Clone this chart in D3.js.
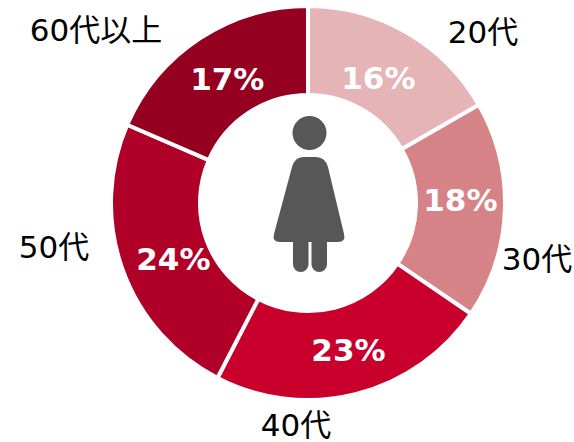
<!DOCTYPE html>
<html>
<head>
<meta charset="utf-8">
<script src="https://cdn.jsdelivr.net/npm/d3@7"></script>
<style>
  html, body { margin: 0; padding: 0; background: #fff; }
  text { font-family: "DejaVu Sans", "Noto Sans CJK JP", sans-serif; }
</style>
</head>
<body>
<svg id="chart"></svg>
<script>
// age groups, clockwise from 12 o'clock
const ages = ["20代", "30代", "40代", "50代", "60代以上"];
// printed labels
const percents = ["16%", "18%", "23%", "24%", "17%"];
// slice sizes (they differ a bit from the printed numbers)
const shares = [16.7, 17.8, 23.1, 23.9, 18.5];
const colors = ["#e4b4b6", "#d58387", "#c8002b", "#b00028", "#960020"];

const width = 574, height = 442;
const cx = 308, cy = 203;
const outer = 197, inner = 108;

const svg = d3.select("#chart").attr("width", width).attr("height", height);
svg.style("display", "block");

const g = svg.append("g").attr("transform", "translate(" + cx + "," + cy + ")");

const pie = d3.pie().sort(null)(shares);
const arc = d3.arc().innerRadius(inner).outerRadius(outer);

g.selectAll("path.slice")
  .data(pie)
  .enter()
  .append("path")
  .attr("class", "slice")
  .attr("d", arc)
  .attr("fill", (d, i) => colors[i])
  .attr("stroke", "#fff")
  .attr("stroke-width", 4);

// percent labels sit a little off the ring's centre line, same as the original
const pctOffset = [[-6, 7], [0, -9], [3, -1], [9, 5], [3, 3]];
g.selectAll("text.pct")
  .data(pie)
  .enter()
  .append("text")
  .attr("class", "pct")
  .attr("x", (d, i) => arc.centroid(d)[0] + pctOffset[i][0])
  .attr("y", (d, i) => arc.centroid(d)[1] + pctOffset[i][1])
  .attr("text-anchor", "middle")
  .attr("dominant-baseline", "central")
  .attr("fill", "#fff")
  .attr("font-size", 31)
  .attr("font-weight", "bold")
  .text((d, i) => percents[i]);

// age names around the ring
const namePos = [[483, 32], [537, 259], [296, 425], [54, 247], [96, 30]];
svg.selectAll("text.age")
  .data(ages)
  .enter()
  .append("text")
  .attr("class", "age")
  .attr("x", (d, i) => namePos[i][0])
  .attr("y", (d, i) => namePos[i][1])
  .attr("text-anchor", "middle")
  .attr("dominant-baseline", "central")
  .attr("fill", "#000")
  .attr("font-size", 31)
  .text(d => d);

// woman icon in the hole
const icon = svg.append("g").attr("fill", "#575757");
icon.append("circle").attr("cx", 309.5).attr("cy", 133).attr("r", 17);
icon.append("path").attr("d",
  "M303 157 H316 Q325 157 328 167 L344 234 Q346 242 338 242 H280 Q272 242 274 234 L292 167 Q295 157 303 157 Z");
icon.append("rect").attr("x", 293).attr("y", 235).attr("width", 15.5).attr("height", 37).attr("rx", 7.7);
icon.append("rect").attr("x", 311.5).attr("y", 235).attr("width", 15.5).attr("height", 37).attr("rx", 7.7);
</script>
</body>
</html>
